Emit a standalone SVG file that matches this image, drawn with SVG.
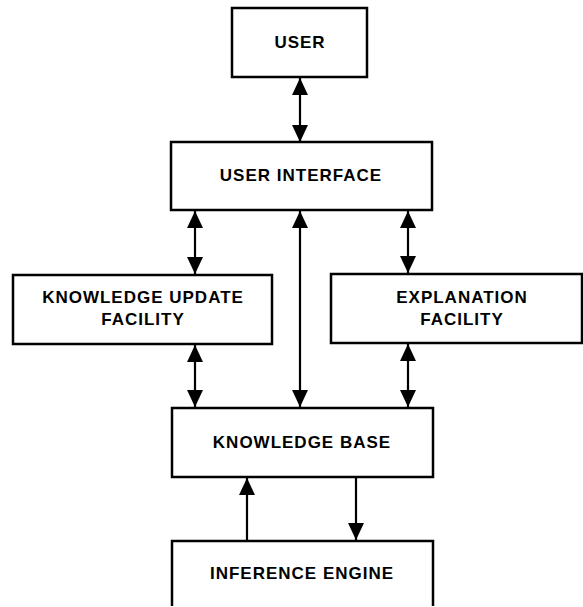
<svg xmlns="http://www.w3.org/2000/svg" width="583" height="607" viewBox="0 0 583 607">
<style>
.box{fill:#fff;stroke:#000;stroke-width:2.5}
.lbl{font-family:"Liberation Sans",Arial,Helvetica,sans-serif;font-weight:bold;font-size:17px;letter-spacing:1px;text-anchor:middle;fill:#000}
.con{stroke:#000;stroke-width:2.2;fill:none}
</style>
<defs>
<marker id="ah" viewBox="0 0 17 16" refX="17" refY="8" markerWidth="17" markerHeight="16" markerUnits="userSpaceOnUse" orient="auto-start-reverse">
<path d="M0,0 L17,8 L0,16 z" fill="#000"/>
</marker>
</defs>
<rect width="583" height="607" fill="#fff"/>
<g id="connectors">
<line class="con" x1="300" y1="78" x2="300" y2="142" marker-start="url(#ah)" marker-end="url(#ah)"/>
<line class="con" x1="195" y1="211" x2="195" y2="274" marker-start="url(#ah)" marker-end="url(#ah)"/>
<line class="con" x1="300" y1="211" x2="300" y2="407" marker-start="url(#ah)" marker-end="url(#ah)"/>
<line class="con" x1="408" y1="211" x2="408" y2="273" marker-start="url(#ah)" marker-end="url(#ah)"/>
<line class="con" x1="195" y1="345" x2="195" y2="407" marker-start="url(#ah)" marker-end="url(#ah)"/>
<line class="con" x1="408" y1="344" x2="408" y2="407" marker-start="url(#ah)" marker-end="url(#ah)"/>
<line class="con" x1="247" y1="540" x2="247" y2="478" marker-end="url(#ah)"/>
<line class="con" x1="356" y1="478" x2="356" y2="540" marker-end="url(#ah)"/>
</g>
<g id="user">
<rect class="box" x="232" y="8" width="135" height="69"/>
<text class="lbl" x="300" y="48">USER</text>
</g>
<g id="user-interface">
<rect class="box" x="171" y="142" width="261" height="68"/>
<text class="lbl" x="301" y="181">USER INTERFACE</text>
</g>
<g id="knowledge-update-facility">
<rect class="box" x="13" y="275" width="259" height="69"/>
<text class="lbl" x="143" y="303">KNOWLEDGE UPDATE</text>
<text class="lbl" x="143" y="325">FACILITY</text>
</g>
<g id="explanation-facility">
<rect class="box" x="331" y="274" width="251" height="69"/>
<text class="lbl" x="462" y="303">EXPLANATION</text>
<text class="lbl" x="462" y="325">FACILITY</text>
</g>
<g id="knowledge-base">
<rect class="box" x="172" y="408" width="261" height="69"/>
<text class="lbl" x="302" y="448">KNOWLEDGE BASE</text>
</g>
<g id="inference-engine">
<path class="box" d="M172,606 L172,541 L433,541 L433,606"/>
<text class="lbl" x="302" y="579">INFERENCE ENGINE</text>
</g>
</svg>
